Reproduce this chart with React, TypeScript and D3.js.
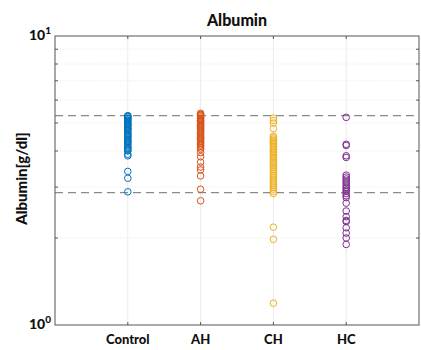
import React from "react";
import * as d3 from "d3";

const title = "Albumin";
const yLabel = "Albumin[g/dl]";
const categories = ["Control", "AH", "CH", "HC"];
const colors = ["#0072BD", "#D95319", "#EDB120", "#7E2F8E"];

const controlValues = [5.3, 5.28, 5.25, 5.2, 5.17, 5.12, 5.1, 5.05, 5.0, 4.97, 4.93, 4.9, 4.85, 4.8, 4.78, 4.73, 4.7, 4.65, 4.6, 4.57, 4.52, 4.5, 4.45, 4.4, 4.37, 4.32, 4.3, 4.25, 4.2, 4.15, 4.1, 4.07, 4.03, 4.0, 3.9, 3.85, 3.4, 3.22, 2.89];
const ahValues = [5.4, 5.36, 5.33, 5.3, 5.25, 5.2, 5.17, 5.12, 5.1, 5.05, 5.0, 4.95, 4.9, 4.87, 4.82, 4.78, 4.73, 4.7, 4.65, 4.6, 4.55, 4.5, 4.46, 4.42, 4.38, 4.33, 4.3, 4.25, 4.2, 4.16, 4.1, 4.05, 3.95, 3.82, 3.66, 3.52, 3.44, 3.28, 2.95, 2.69];
const chValues = [5.2, 5.1, 5.0, 4.78, 4.5, 4.45, 4.4, 4.35, 4.3, 4.25, 4.2, 4.15, 4.1, 4.05, 4.0, 3.95, 3.9, 3.85, 3.8, 3.75, 3.7, 3.65, 3.6, 3.55, 3.5, 3.45, 3.4, 3.35, 3.3, 3.25, 3.2, 3.15, 3.1, 3.05, 3.0, 2.95, 2.9, 2.85, 2.18, 1.98, 1.19];
const hcValues = [5.23, 4.22, 4.18, 3.85, 3.8, 3.3, 3.25, 3.2, 3.15, 3.1, 3.05, 3.0, 2.97, 2.93, 2.9, 2.85, 2.8, 2.76, 2.64, 2.48, 2.37, 2.3, 2.28, 2.17, 2.08, 2.0, 1.9];
const seriesValues = [controlValues, ahValues, chValues, hcValues];

const refLines = [5.3, 2.87];
const minorTicks = [2, 3, 4, 5, 6, 7, 8, 9];

const W = 421;
const H = 350;
const margin = { left: 55, right: 2, top: 36, bottom: 25 };

export default function App() {
  const x = d3.scaleLinear().domain([0, 5]).range([margin.left, W - margin.right]);
  const y = d3.scaleLog().domain([1, 10]).range([H - margin.bottom, margin.top]);
  const x0 = x.range()[0];
  const x1 = x.range()[1];
  const y0 = y.range()[0];
  const y1 = y.range()[1];
  const font = "Lato, 'Open Sans', sans-serif";

  return (
    <svg
      width={W}
      height={H}
      style={{ position: "absolute", left: 0, top: 0, background: "#fff" }}
      fontFamily={font}
    >
      <rect x={0} y={0} width={W} height={H} fill="#fff" />
      {minorTicks.map((t) => (
        <line key={"mg" + t} x1={x0} x2={x1} y1={y(t)} y2={y(t)} stroke="#e4e4e4" strokeWidth={0.8} strokeDasharray="1,1.5" />
      ))}
      {categories.map((c, i) => (
        <line key={"vg" + c} x1={x(i + 1)} x2={x(i + 1)} y1={y0} y2={y1} stroke="#e6e6e6" strokeWidth={0.8} />
      ))}
      {refLines.map((r) => (
        <line key={"ref" + r} x1={x0} x2={x1} y1={y(r)} y2={y(r)} stroke="#8a8a8a" strokeWidth={1.2} strokeDasharray="8,5" />
      ))}
      {seriesValues.map((vals, i) =>
        vals.map((v, j) => (
          <circle key={"p" + i + "-" + j} cx={x(i + 1)} cy={y(v)} r={3.3} fill="none" stroke={colors[i]} strokeWidth={1} />
        ))
      )}
      <rect x={x0} y={y1} width={x1 - x0} height={y0 - y1} fill="none" stroke="#555" strokeWidth={1} />
      {minorTicks.map((t) => (
        <g key={"yt" + t}>
          <line x1={x0} x2={x0 + 3} y1={y(t)} y2={y(t)} stroke="#555" />
          <line x1={x1} x2={x1 - 3} y1={y(t)} y2={y(t)} stroke="#555" />
        </g>
      ))}
      {categories.map((c, i) => (
        <g key={"xt" + c}>
          <line x1={x(i + 1)} x2={x(i + 1)} y1={y0} y2={y0 - 3} stroke="#555" />
          <line x1={x(i + 1)} x2={x(i + 1)} y1={y1} y2={y1 + 3} stroke="#555" />
          <text x={x(i + 1)} y={y0 + 19} textAnchor="middle" fontSize={13} fontWeight="900" fill="#111">
            {c}
          </text>
        </g>
      ))}
      {[1, 10].map((v, k) => (
        <text key={"yl" + v} x={x0 - 4} y={y(v) + 4} textAnchor="end" fontSize={14} fontWeight="900" fill="#111">
          10
          <tspan dy={-6} fontSize={10}>{k}</tspan>
        </text>
      ))}
      <text x={(x0 + x1) / 2} y={26} textAnchor="middle" fontSize={16} fontWeight="900" fill="#111">
        {title}
      </text>
      <text
        transform={`translate(27, ${(y0 + y1) / 2 - 2}) rotate(-90)`}
        textAnchor="middle"
        fontSize={15}
        fontWeight="900"
        fill="#111"
      >
        {yLabel}
      </text>
    </svg>
  );
}
